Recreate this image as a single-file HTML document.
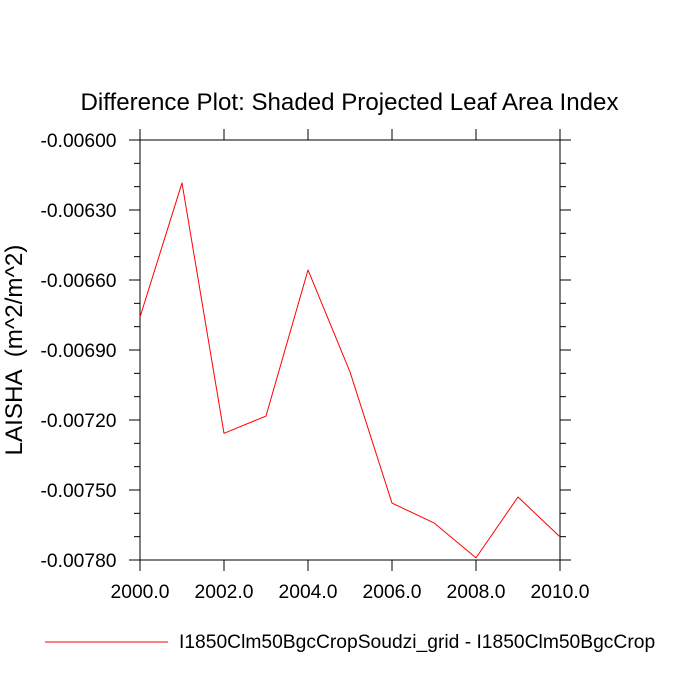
<!DOCTYPE html>
<html>
<head>
<meta charset="utf-8">
<style>
html,body{margin:0;padding:0;background:#fff;}
svg{display:block;font-family:"Liberation Sans",sans-serif;}
</style>
</head>
<body>
<svg id="chart" width="700" height="700" viewBox="0 0 700 700" xmlns="http://www.w3.org/2000/svg">
<rect x="0" y="0" width="700" height="700" fill="#fff"/>
<text x="349.5" y="110" text-anchor="middle" font-size="24.1" fill="#000">Difference Plot: Shaded Projected Leaf Area Index</text>
<text transform="translate(22,350) rotate(-90)" text-anchor="middle" font-size="24.2" fill="#000" xml:space="preserve">LAISHA  (m^2/m^2)</text>
<g id="ticks"></g>
<g id="labels"></g>
<rect x="140" y="140" width="420" height="420" fill="none" stroke="#000" stroke-width="1"/>
<polyline id="series" fill="none" stroke="#ff0000" stroke-width="1" stroke-linejoin="round"/>
<line x1="45" y1="642" x2="168" y2="642" stroke="#ff0000" stroke-width="1"/>
<text x="179" y="648" font-size="19.25" fill="#000">I1850Clm50BgcCropSoudzi_grid - I1850Clm50BgcCrop</text>
</svg>
<script>
var years = [2000, 2001, 2002, 2003, 2004, 2005, 2006, 2007, 2008, 2009, 2010];
var laisha = [-0.006759, -0.006184, -0.007257, -0.007183, -0.006557, -0.006994, -0.007556, -0.007641, -0.007791, -0.00753, -0.007701];
var xTicks = [2000, 2002, 2004, 2006, 2008, 2010];
var xTickLabels = ["2000.0", "2002.0", "2004.0", "2006.0", "2008.0", "2010.0"];
var yTicks = [-0.006, -0.0063, -0.0066, -0.0069, -0.0072, -0.0075, -0.0078];
var yTickLabels = ["-0.00600", "-0.00630", "-0.00660", "-0.00690", "-0.00720", "-0.00750", "-0.00780"];
var yMinorTicks = [-0.0061, -0.0062, -0.0064, -0.0065, -0.0067, -0.0068, -0.007, -0.0071, -0.0073, -0.0074, -0.0076, -0.0077];

var NS = 'http://www.w3.org/2000/svg';
function xScale(v) { return 140 + (v - 2000) / 10 * 420; }
function yScale(v) { return 140 + (-0.006 - v) / 0.0018 * 420; }

var tickGroup = document.getElementById('ticks');
var labelGroup = document.getElementById('labels');

function addTick(x1, y1, x2, y2, name) {
  var l = document.createElementNS(NS, 'line');
  l.setAttribute('x1', x1);
  l.setAttribute('y1', y1);
  l.setAttribute('x2', x2);
  l.setAttribute('y2', y2);
  l.setAttribute('stroke', '#000');
  l.setAttribute('stroke-width', '1');
  
  
  tickGroup.appendChild(l);
}

function addLabel(x, y, anchor, content, name) {
  var t = document.createElementNS(NS, 'text');
  t.setAttribute('x', x);
  t.setAttribute('y', y);
  t.setAttribute('text-anchor', anchor);
  t.setAttribute('font-size', '19.25');
  t.setAttribute('fill', '#000');
  t.textContent = content;
  
  
  labelGroup.appendChild(t);
}

xTicks.forEach(function (v, i) {
  var x = xScale(v);
  addTick(x, 129, x, 140, 'x-tick-top');
  addTick(x, 560, x, 571, 'x-tick-bottom');
  addLabel(x, 598, 'middle', xTickLabels[i], 'x-tick-label');
});

yTicks.forEach(function (v, i) {
  var y = yScale(v);
  addTick(129, y, 140, y, 'y-tick-left');
  addTick(560, y, 571, y, 'y-tick-right');
  addLabel(116.5, y + 7, 'end', yTickLabels[i], 'y-tick-label');
});

yMinorTicks.forEach(function (v) {
  var y = yScale(v);
  addTick(134, y, 140, y, 'y-minor-tick-left');
  addTick(560, y, 566, y, 'y-minor-tick-right');
});

document.getElementById('series').setAttribute('points', years.map(function (yr, i) {
  return xScale(yr) + ',' + yScale(laisha[i]);
}).join(' '));
</script>
</body>
</html>
